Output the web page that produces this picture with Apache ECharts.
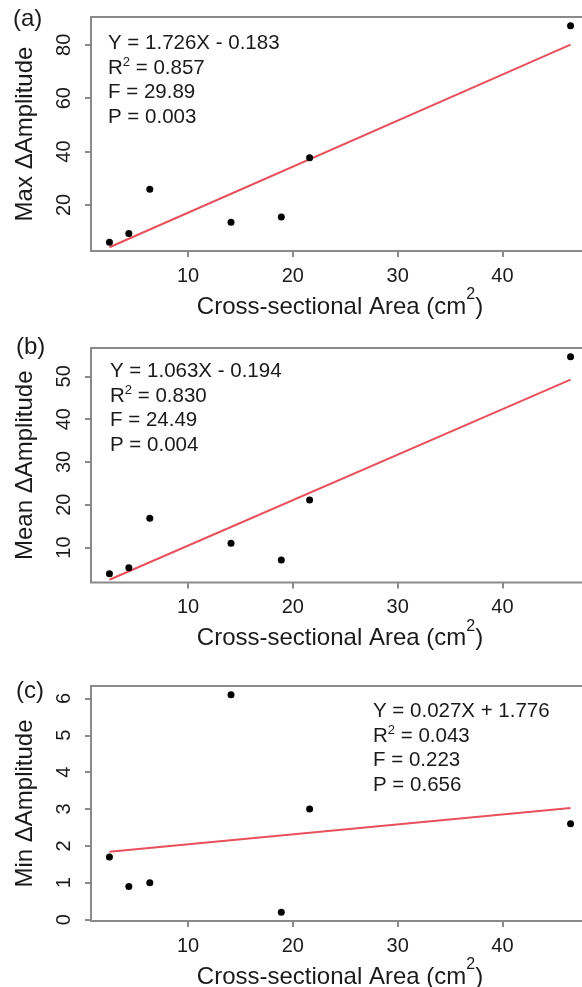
<!DOCTYPE html>
<html>
<head>
<meta charset="utf-8">
<script src="https://cdn.jsdelivr.net/npm/echarts@6/dist/echarts.min.js"></script>
<style>
html,body{margin:0;padding:0;background:#fff;overflow:hidden;}
#chart{width:600px;height:1010px;}
</style>
</head>
<body>
<div id="chart"></div>
<script>
// Cross-sectional area (cm^2) of each specimen
var area = [2.5, 4.35, 6.35, 14.1, 18.9, 21.6, 46.5];
// Delta amplitude values
var maxAmp = [6.0, 9.3, 25.9, 13.5, 15.5, 37.7, 87.2];
var meanAmp = [3.85, 5.25, 16.85, 11.0, 7.05, 21.1, 54.6];
var minAmp = [1.7, 0.9, 1.0, 6.1, 0.2, 3.0, 2.6];
// Regression line end points
var fitMaxX = [2.5, 46.5];
var fitMaxY = [4.13, 80.08];
var fitMeanX = [2.5, 46.5];
var fitMeanY = [2.46, 49.24];
var fitMinX = [2.5, 46.5];
var fitMinY = [1.84, 3.03];
// Tick labels
var xTicks = [10, 20, 30, 40];
var yTicksMax = [20, 40, 60, 80];
var yTicksMean = [10, 20, 30, 40, 50];
var yTicksMin = [0, 1, 2, 3, 4, 5, 6];
// Axis ranges
var xRange = [0.74, 48.26];
var yRangeMax = [2.72, 90.45];
var yRangeMean = [1.82, 56.63];
var yRangeMin = [-0.036, 6.336];
// Texts
var panelLabels = ['(a)', '(b)', '(c)'];
var yTitles = ['Max \u0394Amplitude', 'Mean \u0394Amplitude', 'Min \u0394Amplitude'];
var xTitle = 'Cross-sectional Area (cm{sup|2})';
var statsMax = ['Y = 1.726X - 0.183', 'R{sup|2} = 0.857', 'F = 29.89', 'P = 0.003'];
var statsMean = ['Y = 1.063X - 0.194', 'R{sup|2} = 0.830', 'F = 24.49', 'P = 0.004'];
var statsMin = ['Y = 0.027X + 1.776', 'R{sup|2} = 0.043', 'F = 0.223', 'P = 0.656'];

var FONT = '"Liberation Sans", Arial, Helvetica, sans-serif';
var GRAY = '#8a8a8a';
var RED = '#e8505b';

function zip(xs, ys) { return xs.map(function (x, i) { return [x, ys[i]]; }); }

var grids = [
  {left: 91, top: 17, width: 498, height: 234},
  {left: 91, top: 348, width: 498, height: 234.5},
  {left: 91, top: 686, width: 498, height: 235}
];
grids.forEach(function (g) {
  g.show = true; g.borderColor = GRAY; g.borderWidth = 2; g.backgroundColor = 'transparent';
  g.containLabel = false; g.outerBoundsMode = 'none';
});

function xAxis(i) {
  return {
    type: 'value', gridIndex: i, min: xRange[0], max: xRange[1],
    splitLine: {show: false},
    axisLine: {show: false, onZero: false},
    axisTick: {show: true, length: 6, lineStyle: {color: GRAY, width: 2}, customValues: xTicks},
    axisLabel: {show: true, customValues: xTicks, color: '#1a1a1a', fontSize: 20, fontFamily: FONT, margin: 15},
    name: xTitle, nameLocation: 'middle', nameGap: 36,
    nameTextStyle: {color: '#1a1a1a', fontSize: 24, fontFamily: FONT, lineHeight: 40,
      rich: {sup: {fontSize: 16, lineHeight: 2, verticalAlign: 'top', color: '#1a1a1a', fontFamily: FONT}}}
  };
}
function yAxis(i, range, ticks) {
  return {
    type: 'value', gridIndex: i, min: range[0], max: range[1],
    splitLine: {show: false},
    axisLine: {show: false, onZero: false},
    axisTick: {show: true, length: 6, lineStyle: {color: GRAY, width: 2}, customValues: ticks},
    axisLabel: {show: true, customValues: ticks, rotate: 90, color: '#1a1a1a', fontSize: 20, fontFamily: FONT, margin: 17},
    name: yTitles[i], nameLocation: 'middle', nameRotate: 90, nameGap: 54,
    nameTextStyle: {color: '#1a1a1a', fontSize: 24, fontFamily: FONT}
  };
}

function statsText(lines, x, y) {
  return {
    type: 'text', left: x, top: y, z: 100,
    style: {
      text: lines.join('\n'), fill: '#1a1a1a', font: '20.5px ' + FONT, lineHeight: 24.7,
      rich: {sup: {fontSize: 13, lineHeight: 8, verticalAlign: 'top', fill: '#1a1a1a', fontFamily: FONT}}
    }
  };
}
function panelText(t, x, y) {
  return {type: 'text', left: x, top: y, z: 100, style: {text: t, fill: '#1a1a1a', font: '24px ' + FONT}};
}

var option = {
  animation: false,
  backgroundColor: '#ffffff',
  grid: grids,
  xAxis: [xAxis(0), xAxis(1), xAxis(2)],
  yAxis: [yAxis(0, yRangeMax, yTicksMax), yAxis(1, yRangeMean, yTicksMean), yAxis(2, yRangeMin, yTicksMin)],
  series: [
    {type: 'line', xAxisIndex: 0, yAxisIndex: 0, data: zip(fitMaxX, fitMaxY), symbol: 'none', lineStyle: {color: RED, width: 2}, z: 2},
    {type: 'line', xAxisIndex: 1, yAxisIndex: 1, data: zip(fitMeanX, fitMeanY), symbol: 'none', lineStyle: {color: RED, width: 2}, z: 2},
    {type: 'line', xAxisIndex: 2, yAxisIndex: 2, data: zip(fitMinX, fitMinY), symbol: 'none', lineStyle: {color: RED, width: 2}, z: 2},
    {type: 'scatter', xAxisIndex: 0, yAxisIndex: 0, data: zip(area, maxAmp), symbolSize: 7, itemStyle: {color: '#000', opacity: 1}, z: 3},
    {type: 'scatter', xAxisIndex: 1, yAxisIndex: 1, data: zip(area, meanAmp), symbolSize: 7, itemStyle: {color: '#000', opacity: 1}, z: 3},
    {type: 'scatter', xAxisIndex: 2, yAxisIndex: 2, data: zip(area, minAmp), symbolSize: 7, itemStyle: {color: '#000', opacity: 1}, z: 3}
  ],
  graphic: [
    panelText(panelLabels[0], 13, 7),
    panelText(panelLabels[1], 16, 335),
    panelText(panelLabels[2], 16, 679),
    statsText(statsMax, 108, 31),
    statsText(statsMean, 110, 359),
    statsText(statsMin, 373, 699)
  ]
};

var chart = echarts.init(document.getElementById('chart'), null, {renderer: 'canvas'});
chart.setOption(option);
</script>
</body>
</html>
